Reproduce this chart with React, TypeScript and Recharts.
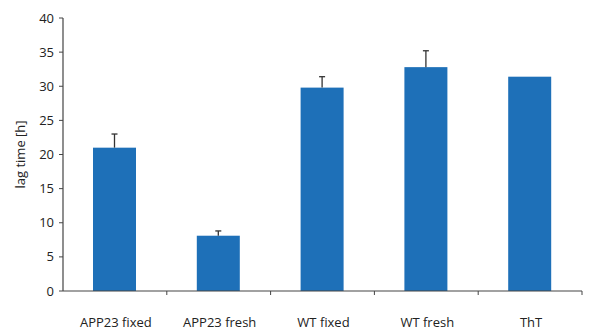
import React from 'react';
import { BarChart, Bar, XAxis, YAxis } from 'recharts';

const groups = ['APP23 fixed', 'APP23 fresh', 'WT fixed', 'WT fresh', 'ThT'];
const lagTime = [21.0, 8.1, 29.8, 32.8, 31.4];
const lagErr = [2.0, 0.7, 1.6, 2.4, 0];
const yTicks = [0, 5, 10, 15, 20, 25, 30, 35, 40];

const data = groups.map((g, i) => ({ group: g, lag: lagTime[i], err: lagErr[i] }));

const W = 591;
const H = 330;
const margin = { top: 18, right: 9, bottom: 0, left: 0 };
const yAxisW = 63;
const band = (W - margin.left - margin.right - yAxisW) / groups.length;

const FONT = '"Open Sans", sans-serif';
const BLUE = '#1e70b8';
const AXIS = '#444';

// bar + upward-only error whisker
function BarWithErr(props: any) {
  const { x, y, width, height, payload } = props;
  const pxPerUnit = payload.lag ? height / payload.lag : 0;
  const e = payload.err * pxPerUnit;
  const cx = x + width / 2;
  return (
    <g>
      <rect x={x} y={y} width={width} height={height} fill={BLUE} />
      {e > 0 && (
        <g stroke="#333" strokeWidth={1.3}>
          <line x1={cx} y1={y} x2={cx} y2={y - e} />
          <line x1={cx - 3} y1={y - e} x2={cx + 3} y2={y - e} />
        </g>
      )}
    </g>
  );
}

function XTick(props: any) {
  const { x, y, payload } = props;
  const bx = x + band / 2;
  return (
    <g>
      <line x1={bx} y1={y} x2={bx} y2={y + 4} stroke={AXIS} strokeWidth={1} />
      <text x={x + 1} y={y + 36} textAnchor="middle" fontSize={13} fontFamily={FONT} fill="#222">
        {payload.value}
      </text>
    </g>
  );
}

export default function App() {
  return (
    <div style={{ position: 'absolute', left: 0, top: 0, width: W, height: H, background: '#fff' }}>
      <BarChart width={W} height={H} data={data} margin={margin} barSize={43}>
        <XAxis
          dataKey="group"
          height={39}
          tickLine={false}
          tickSize={0}
          tickMargin={0}
          axisLine={{ stroke: AXIS, strokeWidth: 1.2 }}
          tick={<XTick />}
          interval={0}
        />
        <YAxis
          width={yAxisW}
          domain={[0, 40]}
          ticks={yTicks}
          interval={0}
          tickSize={4}
          tickMargin={5}
          axisLine={{ stroke: AXIS, strokeWidth: 1.2 }}
          tickLine={{ stroke: AXIS }}
          tick={{ fontSize: 13, fontFamily: FONT, fill: '#222' }}
          label={{
            content: (p: any) => {
              const vb = p.viewBox;
              const cy = vb.y + vb.height / 2;
              return (
                <text
                  x={20}
                  y={cy}
                  transform={`rotate(-90, 20, ${cy})`}
                  textAnchor="middle"
                  dominantBaseline="central"
                  fontSize={13}
                  fontFamily={FONT}
                  fill="#222"
                >
                  lag time [h]
                </text>
              );
            },
          }}
        />
        <Bar dataKey="lag" shape={<BarWithErr />} isAnimationActive={false} />
      </BarChart>
    </div>
  );
}
